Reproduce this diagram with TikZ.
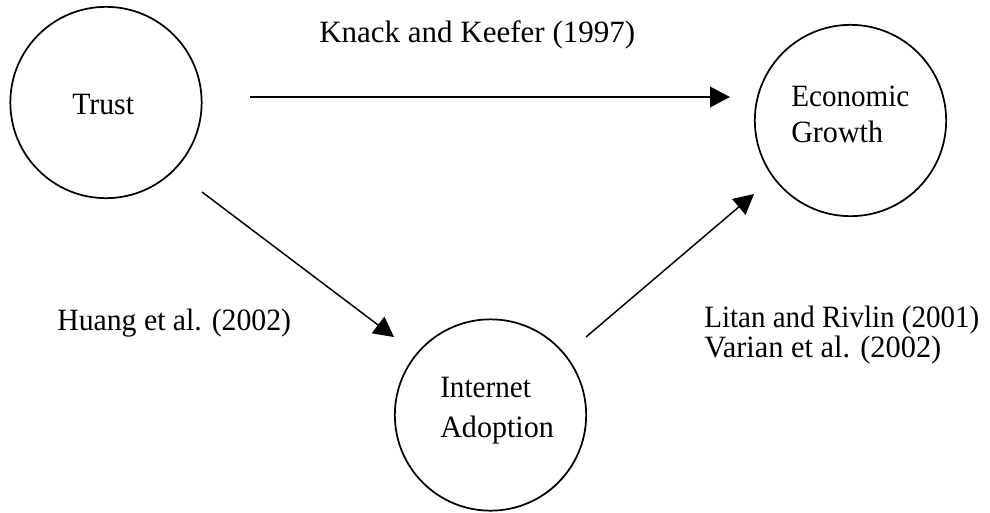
\documentclass[tikz,border=0pt]{standalone}
\usepackage{graphicx}
\usepackage{fontspec}
\setmainfont{Liberation Serif}
\usetikzlibrary{arrows.meta,calc}
\newcommand{\sqz}[2]{\scalebox{#1}[1]{#2}}
\begin{document}
\begin{tikzpicture}[x=0.75pt,y=-0.75pt,
  bubble/.style={circle,draw,line width=1.3pt,minimum size=143.5pt,inner sep=0pt},
  lbl/.style={anchor=base west,inner sep=0pt,font=\fontsize{23.25}{28}\selectfont},
  arr/.style={line width=1.1pt,-{Triangle[length=15pt,width=15.5pt]}}]
\useasboundingbox (0,0) rectangle (990,512);
% circles
\node[bubble] (trust) at (106,102.5) {};
\node[bubble] (growth) at (850.5,120.5) {};
\node[bubble] (adopt) at (490.5,415) {};
% texts
\node[lbl] (trustT) at (72,114) {\sqz{0.96}{Trust}};
\node[lbl] (eg1) at (791,106) {\sqz{0.94}{Economic}};
\node[lbl] (eg2) at (791,142) {\sqz{0.97}{Growth}};
\node[lbl] (ia1) at (440,397) {\sqz{0.94}{Internet}};
\node[lbl] (ia2) at (440,437) {\sqz{0.97}{Adoption}};
\node[lbl] (kk) at (319,42) {Knack and Keefer (1997)};
\node[lbl] (huang) at (57,330) {\sqz{0.96}{Huang et al. (2002)}};
\node[lbl] (litan) at (704,327) {\sqz{0.937}{Litan and Rivlin (2001)}};
\node[lbl] (varian) at (704,357) {\sqz{0.98}{Varian et al. (2002)}};
% arrow end points
\coordinate (tg1) at ($(trust.center)+(144,-5.5)$);
\coordinate (tg2) at ($(growth.center)+(-120.5,-23.5)$);
\coordinate (ta1) at ($(trust.center)+(96,89.5)$);
\coordinate (ta2) at ($(adopt.center)+(-96.5,-78)$);
\coordinate (ag1) at ($(adopt.center)+(95.5,-78)$);
\coordinate (ag2) at ($(growth.center)+(-96.5,73.5)$);
% arrows
\draw[arr] (tg1) -- (tg2);
\draw[arr] (ta1) -- (ta2);
\draw[arr] (ag1) -- (ag2);
\end{tikzpicture}
\end{document}
